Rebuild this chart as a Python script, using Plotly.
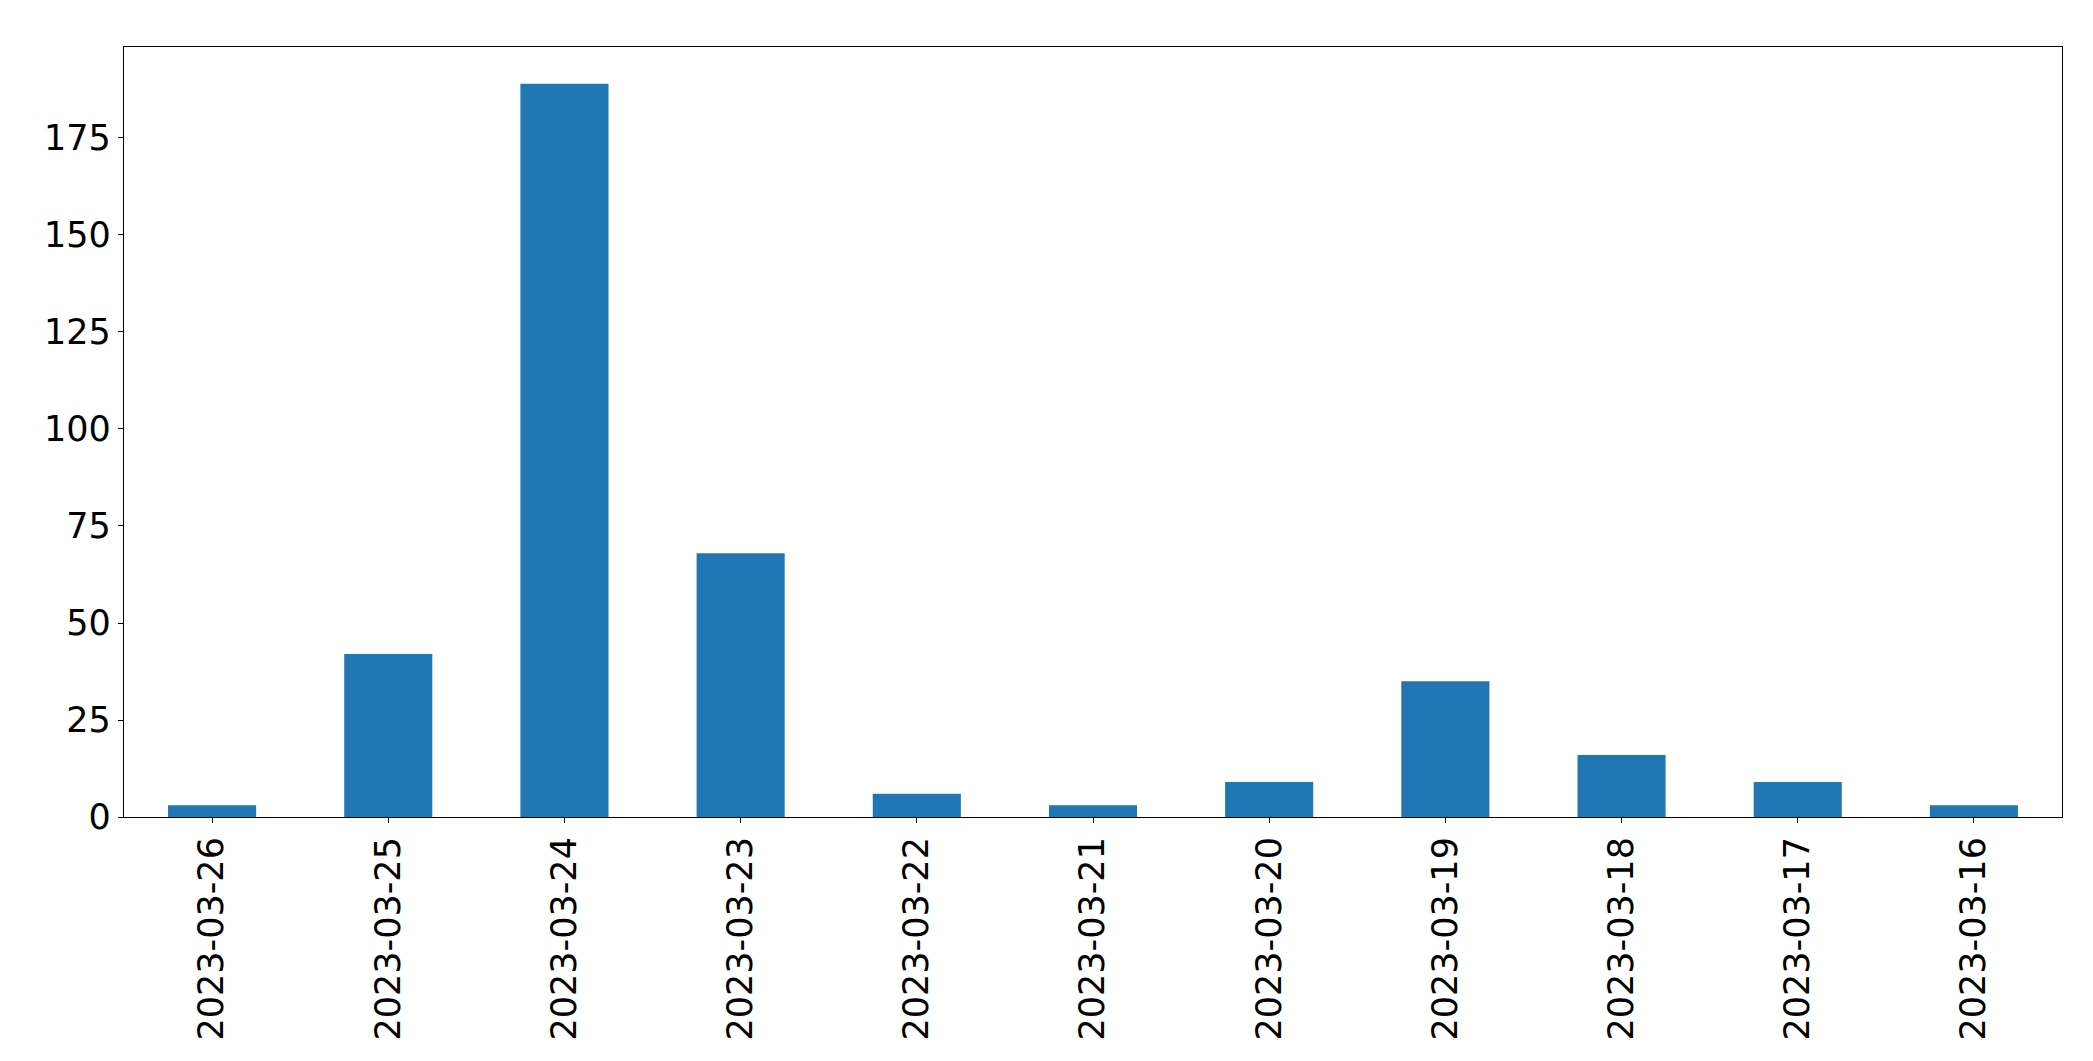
import plotly.graph_objects as go

dates = ["2023-03-26", "2023-03-25", "2023-03-24", "2023-03-23", "2023-03-22",
         "2023-03-21", "2023-03-20", "2023-03-19", "2023-03-18", "2023-03-17",
         "2023-03-16"]
counts = [3, 42, 189, 68, 6, 3, 9, 35, 16, 9, 3]
y_ticks = [0, 25, 50, 75, 100, 125, 150, 175]

fig = go.Figure(go.Bar(x=dates, y=counts, width=0.5, marker=dict(color="#1f77b4", line=dict(width=0))))

font = dict(family="DejaVu Sans", size=35, color="black")
fig.update_layout(
    width=2093, height=1061,
    margin=dict(l=116, r=39, t=39, b=252),
    paper_bgcolor="white", plot_bgcolor="white",
    showlegend=False,
    font=font,
)
fig.update_xaxes(
    type="category", range=[-0.5, len(dates) - 0.5],
    tickangle=-90, ticks="outside", ticklen=5, tickwidth=1.2, tickcolor="black",
    showline=True, linecolor="black", linewidth=1.2, mirror=True,
    showgrid=False, tickfont=font,
)
fig.update_yaxes(
    range=[0, max(counts) * 1.05], tickvals=y_ticks,
    ticks="outside", ticklen=5, tickwidth=1.2, tickcolor="black",
    showline=True, linecolor="black", linewidth=1.2, mirror=True,
    showgrid=False, zeroline=False, tickfont=font,
)
fig.write_html("out.html")
